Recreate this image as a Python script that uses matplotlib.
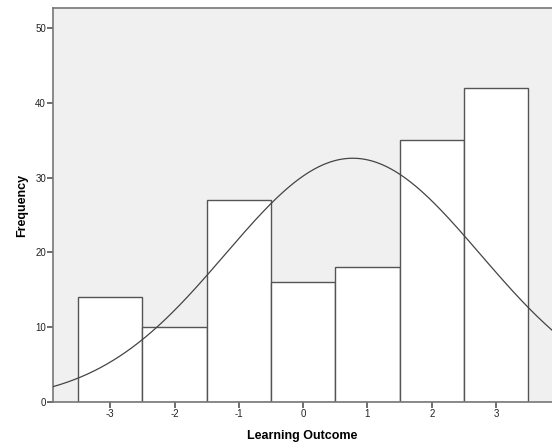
import numpy as np
import matplotlib
matplotlib.use('Agg')
import matplotlib.pyplot as plt

plt.rcParams['font.family'] = ['Liberation Sans', 'DejaVu Sans']
plt.rcParams['axes.unicode_minus'] = False

# Histogram bins (centers) and frequencies
bin_centers = [-3, -2, -1, 0, 1, 2, 3]
frequencies = [14, 10, 27, 16, 18, 35, 42]

# Normal curve fitted to the binned data, as SPSS does
x_arr = np.array(bin_centers, dtype=float)
f_arr = np.array(frequencies, dtype=float)
n = f_arr.sum()
mean = (x_arr * f_arr).sum() / n
sd = np.sqrt((f_arr * (x_arr - mean) ** 2).sum() / (n - 1))

W, H = 552, 447
fig = plt.figure(figsize=(W / 100, H / 100), dpi=100)
left, right, top, bottom = 53, 552, 8, 402
ax = fig.add_axes([left / W, 1 - bottom / H, (right - left) / W, (bottom - top) / H])
ax.set_facecolor('#f0f0f0')

ax.bar(bin_centers, frequencies, width=1.0, color='white', edgecolor='#555555',
       linewidth=1.0, zorder=2)

xs = np.linspace(-4, 4, 400)
curve = n * 1.0 / (sd * np.sqrt(2 * np.pi)) * np.exp(-0.5 * ((xs - mean) / sd) ** 2)
ax.plot(xs, curve, color='#444444', linewidth=0.9, zorder=3)

ax.set_xlim(-3.89, 3.87)
ax.set_ylim(0, 52.7)
ax.set_xticks(bin_centers)
ax.set_yticks([0, 10, 20, 30, 40, 50])
ax.tick_params(axis='both', direction='out', length=4, width=1.2, color='#555555',
               labelsize=7, labelcolor='#222222', pad=1)

for side in ['left', 'bottom', 'top']:
    ax.spines[side].set_color('#777777')
    ax.spines[side].set_linewidth(1.2)
ax.spines['right'].set_visible(False)

ax.set_xlabel('Learning Outcome', fontsize=9, fontweight='bold', labelpad=8)
ax.set_ylabel('Frequency', fontsize=9, fontweight='bold', labelpad=5)

fig.savefig('out.png', dpi=100)
